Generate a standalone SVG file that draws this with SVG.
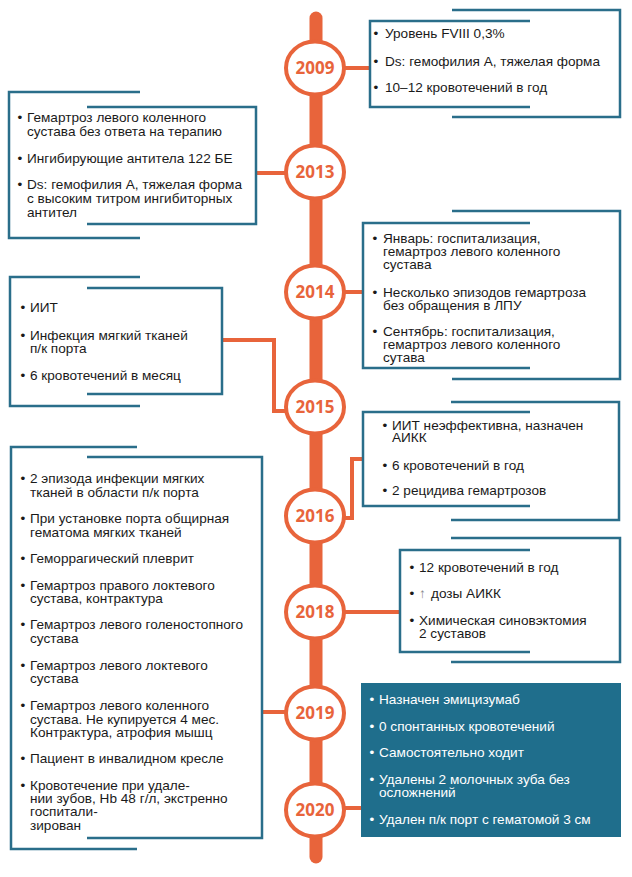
<svg xmlns="http://www.w3.org/2000/svg" width="632" height="877" viewBox="0 0 632 877">
<style>
.tl{stroke:#e8643b;stroke-width:13;stroke-linecap:round;fill:none}
.cn{stroke:#e8643b;stroke-width:4;fill:none}
.yc{fill:#fff;stroke:#e8643b;stroke-width:4}
.yt{font-family:"Open Sans","Liberation Sans",sans-serif;font-weight:700;font-size:17px;fill:#e8643b;text-anchor:middle}
.br{stroke:#2a6e8a;stroke-width:2.5;fill:none}
.t{font-family:"Liberation Sans",Arial,sans-serif;font-size:13.6px;fill:#1a1a1a}
.w{fill:#fff}
.ar{fill:#8a8a8a}
</style>
<rect width="632" height="877" fill="#fff"/>
<line class="tl" x1="316" y1="18" x2="316" y2="857"/>
<g id="connectors">
<line class="cn" x1="340" y1="68" x2="370" y2="68"/>
<line class="cn" x1="256" y1="173" x2="290" y2="173"/>
<line class="cn" x1="340" y1="292" x2="363" y2="292"/>
<polyline class="cn" points="222,340 274,340 274,411 292,411"/>
<polyline class="cn" points="340,518 352,518 352,459 363,459"/>
<line class="cn" x1="340" y1="612" x2="400" y2="612"/>
<line class="cn" x1="262" y1="712" x2="290" y2="712"/>
<line class="cn" x1="340" y1="808" x2="361" y2="808"/>
</g>
<g id="y2009"><ellipse class="yc" cx="315" cy="68" rx="29" ry="26.5"/><text class="yt" x="315" y="74">2009</text></g>
<g id="y2013"><ellipse class="yc" cx="315" cy="172" rx="29" ry="26.5"/><text class="yt" x="315" y="178">2013</text></g>
<g id="y2014"><ellipse class="yc" cx="315" cy="292" rx="29" ry="26.5"/><text class="yt" x="315" y="298">2014</text></g>
<g id="y2015"><ellipse class="yc" cx="315" cy="407" rx="29" ry="26.5"/><text class="yt" x="315" y="413">2015</text></g>
<g id="y2016"><ellipse class="yc" cx="315" cy="516" rx="29" ry="26.5"/><text class="yt" x="315" y="522">2016</text></g>
<g id="y2018"><ellipse class="yc" cx="315" cy="612" rx="29" ry="26.5"/><text class="yt" x="315" y="618">2018</text></g>
<g id="y2019"><ellipse class="yc" cx="315" cy="713" rx="29" ry="26.5"/><text class="yt" x="315" y="719">2019</text></g>
<g id="y2020"><ellipse class="yc" cx="315" cy="810" rx="29" ry="26.5"/><text class="yt" x="315" y="816">2020</text></g>

<g id="box2009">
<path class="br" d="M530,21 H370 V107 H530"/>
<path class="br" d="M452,10 H620 V117 H452"/>
<text class="t"><tspan x="373.6" y="38">•</tspan><tspan x="385" y="38">Уровень FVIII 0,3%</tspan><tspan x="373.6" y="66">•</tspan><tspan x="385" y="66">Ds: гемофилия А, тяжелая форма</tspan><tspan x="373.6" y="92">•</tspan><tspan x="385" y="92">10–12 кровотечений в год</tspan></text>
</g>

<g id="box2013">
<path class="br" d="M140,92 H9 V238 H140"/>
<path class="br" d="M87,107 H256 V224 H87"/>
<text class="t"><tspan x="17.5" y="122">•</tspan><tspan x="27" y="122">Гемартроз левого коленного</tspan><tspan x="27" y="136">сустава без ответа на терапию</tspan><tspan x="17.5" y="163">•</tspan><tspan x="27" y="163">Ингибирующие антитела 122 БЕ</tspan><tspan x="17.5" y="189">•</tspan><tspan x="27" y="189">Ds: гемофилия А, тяжелая форма</tspan><tspan x="27" y="203">с высоким титром ингибиторных</tspan><tspan x="27" y="217">антител</tspan></text>
</g>

<g id="box2014">
<path class="br" d="M530,223 H363 V368 H530"/>
<path class="br" d="M452,211 H620 V379 H452"/>
<text class="t"><tspan x="372.6" y="243">•</tspan><tspan x="383" y="243">Январь: госпитализация,</tspan><tspan x="383" y="256">гемартроз левого коленного</tspan><tspan x="383" y="269">сустава</tspan><tspan x="372.6" y="297">•</tspan><tspan x="383" y="297">Несколько эпизодов гемартроза</tspan><tspan x="383" y="310">без обращения в ЛПУ</tspan><tspan x="372.6" y="336">•</tspan><tspan x="383" y="336">Сентябрь: госпитализация,</tspan><tspan x="383" y="349">гемартроз левого коленного</tspan><tspan x="383" y="362">сутава</tspan></text>
</g>

<g id="box2015">
<path class="br" d="M140,277 H10 V406 H140"/>
<path class="br" d="M87,288 H222 V394 H87"/>
<text class="t"><tspan x="20.6" y="312">•</tspan><tspan x="30" y="312">ИИТ</tspan><tspan x="20.6" y="340">•</tspan><tspan x="30" y="340">Инфекция мягкий тканей</tspan><tspan x="30" y="353">п/к порта</tspan><tspan x="20.6" y="380">•</tspan><tspan x="30" y="380">6 кровотечений в месяц</tspan></text>
</g>

<g id="box2016r">
<path class="br" d="M530,412 H363 V506 H530"/>
<path class="br" d="M451,402 H619 V520 H451"/>
<text class="t"><tspan x="382.6" y="430">•</tspan><tspan x="392" y="430">ИИТ неэффективна, назначен</tspan><tspan x="392" y="442">АИКК</tspan><tspan x="382.6" y="470">•</tspan><tspan x="392" y="470">6 кровотечений в год</tspan><tspan x="382.6" y="495">•</tspan><tspan x="392" y="495">2 рецидива гемартрозов</tspan></text>
</g>

<g id="box2019">
<path class="br" d="M137,447 H11 V849 H137"/>
<path class="br" d="M87,457 H262 V838 H87"/>
<text class="t"><tspan x="20.6" y="483">•</tspan><tspan x="30" y="483">2 эпизода инфекции мягких</tspan><tspan x="30" y="497">тканей в области п/к порта</tspan><tspan x="20.6" y="523">•</tspan><tspan x="30" y="523">При установке порта общирная</tspan><tspan x="30" y="537">гематома мягких тканей</tspan><tspan x="20.6" y="563">•</tspan><tspan x="30" y="563">Геморрагический плеврит</tspan><tspan x="20.6" y="590">•</tspan><tspan x="30" y="590">Гемартроз правого локтевого</tspan><tspan x="30" y="603">сустава, контрактура</tspan><tspan x="20.6" y="629">•</tspan><tspan x="30" y="629">Гемартроз левого голеностопного</tspan><tspan x="30" y="643">сустава</tspan><tspan x="20.6" y="670">•</tspan><tspan x="30" y="670">Гемартроз левого локтевого</tspan><tspan x="30" y="683">сустава</tspan><tspan x="20.6" y="710">•</tspan><tspan x="30" y="710">Гемартроз левого коленного</tspan><tspan x="30" y="724">сустава. Не купируется 4 мес.</tspan><tspan x="30" y="737">Контрактура, атрофия мышц</tspan><tspan x="20.6" y="763">•</tspan><tspan x="30" y="763">Пациент в инвалидном кресле</tspan><tspan x="20.6" y="790">•</tspan><tspan x="30" y="790">Кровотечение при удале-</tspan><tspan x="30" y="803">нии зубов, Hb 48 г/л, экстренно</tspan><tspan x="30" y="816">госпитали-</tspan><tspan x="30" y="830">зирован</tspan></text>
</g>

<g id="box2018">
<path class="br" d="M530,550 H400 V652 H530"/>
<path class="br" d="M451,538 H620 V662 H451"/>
<text class="t"><tspan x="409.6" y="572">•</tspan><tspan x="419" y="572">12 кровотечений в год</tspan><tspan x="409.6" y="598">•</tspan><tspan x="419" y="598" class="ar">↑</tspan><tspan x="431" y="598">дозы АИКК</tspan><tspan x="409.6" y="625">•</tspan><tspan x="419" y="625">Химическая синовэктомия</tspan><tspan x="419" y="638">2 суставов</tspan></text>
</g>

<g id="box2020">
<rect x="361" y="683" width="260" height="154" fill="#1f6e8c"/>
<text class="t w"><tspan x="369.6" y="704">•</tspan><tspan x="379" y="704">Назначен эмицизумаб</tspan><tspan x="369.6" y="731">•</tspan><tspan x="379" y="731">0 спонтанных кровотечений</tspan><tspan x="369.6" y="757">•</tspan><tspan x="379" y="757">Самостоятельно ходит</tspan><tspan x="369.6" y="784">•</tspan><tspan x="379" y="784">Удалены 2 молочных зуба без</tspan><tspan x="379" y="797">осложнений</tspan><tspan x="369.6" y="824">•</tspan><tspan x="379" y="824">Удален п/к порт с гематомой 3 см</tspan></text>
</g>
</svg>
